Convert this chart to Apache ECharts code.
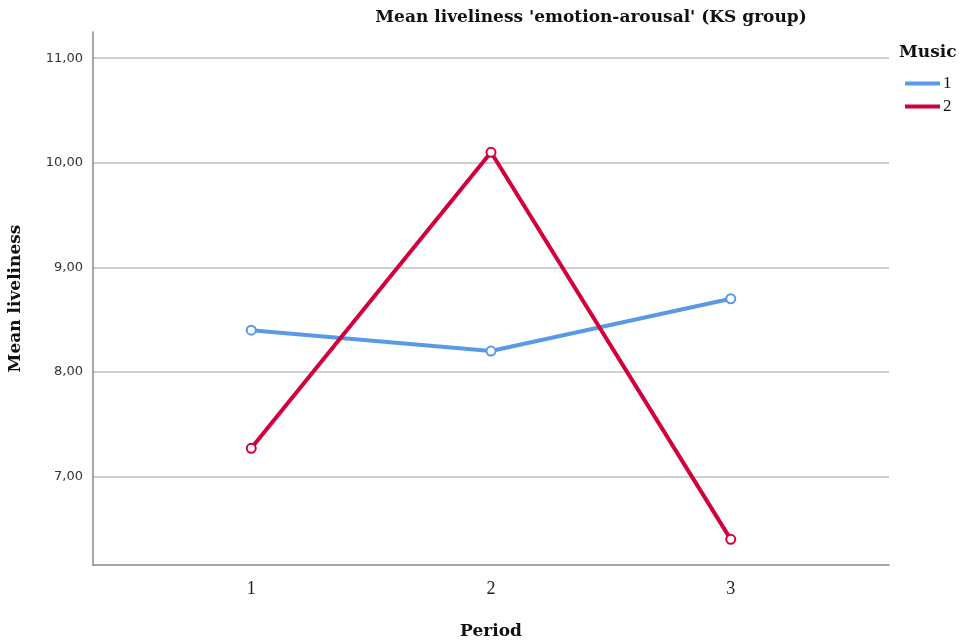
<!DOCTYPE html>
<html>
<head>
<meta charset="utf-8">
<script src="https://cdn.jsdelivr.net/npm/echarts@6/dist/echarts.min.js"></script>
<style>
  html, body { margin: 0; padding: 0; background: #fff; }
  #chart { width: 961px; height: 644px; }
</style>
</head>
<body>
<div id="chart"></div>
<script>
// Periods on the x axis
const periods = [1, 2, 3];
// Mean liveliness per period for each music condition
const music1 = [8.40, 8.20, 8.70];
const music2 = [7.27, 10.10, 6.40];
// Y tick values
const yTicks = [7, 8, 9, 10, 11];
const seriesNames = ['1', '2'];

const serif = 'Liberation Serif';
const wideSerif = 'DejaVu Serif';
const chart = echarts.init(document.getElementById('chart'));

function pairs(vals) {
  return vals.map((v, i) => [periods[i], v]);
}

chart.setOption({
  animation: false,
  backgroundColor: '#ffffff',
  title: {
    text: "Mean liveliness 'emotion-arousal' (KS group)",
    left: 586, top: 4,
    textAlign: 'center',
    textStyle: { fontFamily: wideSerif, fontWeight: 'bold', fontSize: 17, color: '#111' }
  },
  legend: {
    data: seriesNames,
    orient: 'vertical',
    left: 900, top: 70,
    itemWidth: 35, itemHeight: 4, itemGap: 6,
    icon: 'rect',
    textStyle: { fontFamily: serif, fontSize: 17, color: '#111', padding: [0, 0, 0, -2] }
  },
  graphic: [{
    type: 'text', left: 899, top: 44,
    style: { text: 'Music', font: 'bold 17px "DejaVu Serif"', fill: '#111' }
  }],
  grid: { left: 93, right: 72, top: 32, bottom: 79, outerBoundsMode: 'none', containLabel: false },
  xAxis: {
    type: 'value',
    min: 0.34, max: 3.66,
    name: 'Period', nameLocation: 'middle', nameGap: 58,
    nameTextStyle: { fontFamily: wideSerif, fontWeight: 'bold', fontSize: 17, color: '#111' },
    axisLine: { show: true, onZero: false, lineStyle: { color: '#888', width: 1.5 } },
    axisTick: { show: false, customValues: periods },
    axisLabel: { customValues: periods, fontFamily: serif, fontSize: 18, color: '#222', margin: 15 },
    splitLine: { show: false }
  },
  yAxis: {
    type: 'value',
    min: 6.155, max: 11.25,
    name: 'Mean liveliness', nameLocation: 'middle', nameGap: 69, nameRotate: 90,
    nameTextStyle: { fontFamily: wideSerif, fontWeight: 'bold', fontSize: 17, color: '#111' },
    axisLine: { show: true, lineStyle: { color: '#888', width: 1.5 } },
    axisTick: { show: false, customValues: yTicks },
    axisLabel: {
      customValues: yTicks,
      fontFamily: 'DejaVu Sans', fontSize: 13, color: '#333', margin: 10,
      formatter: v => v.toFixed(2).replace('.', ',')
    },
    splitLine: { show: true, lineStyle: { color: '#d0d0d0', width: 2 } }
  },
  series: [
    {
      name: seriesNames[0], type: 'line', data: pairs(music1),
      color: '#5a99e6',
      lineStyle: { width: 4, color: '#5a99e6' },
      symbol: 'emptyCircle', symbolSize: 9,
      itemStyle: { color: '#5a99e6', borderWidth: 1.5 }
    },
    {
      name: seriesNames[1], type: 'line', data: pairs(music2),
      color: '#d2003a',
      lineStyle: { width: 4, color: '#d2003a' },
      symbol: 'emptyCircle', symbolSize: 9,
      itemStyle: { color: '#d2003a', borderWidth: 1.5 }
    }
  ]
});
</script>
</body>
</html>
